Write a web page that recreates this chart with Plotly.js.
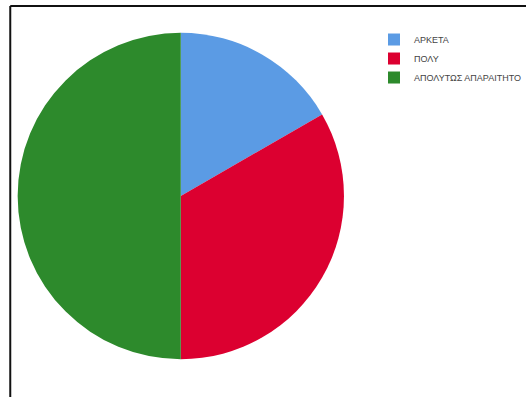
<!DOCTYPE html>
<html>
<head>
<meta charset="utf-8">
<script src="https://cdn.plot.ly/plotly-3.0.1.min.js"></script>
<style>html,body{margin:0;padding:0;background:#fff;}#chart{width:526px;height:397px;}</style>
</head>
<body>
<div id="chart"></div>
<script>
var categories = ["ΑΡΚΕΤΑ", "ΠΟΛΥ", "ΑΠΟΛΥΤΩΣ ΑΠΑΡΑΙΤΗΤΟ"];
var values = [1, 2, 3];
var colors = ["#5b9be4", "#dc0030", "#2d8a2c"];

var W = 526, H = 397;
var cx = 185, cy = 196, r = 167;

var trace = {
  type: "pie",
  labels: categories,
  values: values,
  sort: false,
  direction: "clockwise",
  rotation: 0,
  textinfo: "none",
  hoverinfo: "label+percent",
  marker: {colors: colors, line: {width: 0}},
  domain: {
    x: [(cx - r) / W, (cx + r) / W],
    y: [(H - cy - r) / H, (H - cy + r) / H]
  }
};

var layout = {
  width: W, height: H,
  margin: {l: 0, r: 0, t: 0, b: 0},
  paper_bgcolor: "#ffffff",
  showlegend: true,
  legend: {
    x: 0.728, y: 0.937, xanchor: "left", yanchor: "top",
    font: {family: "Liberation Sans Narrow, Liberation Sans, Arial, sans-serif", size: 9, color: "#444444"},
    bgcolor: "rgba(0,0,0,0)", borderwidth: 0,
    itemwidth: 30
  },
  shapes: [
    {type: "line", xref: "paper", yref: "paper", x0: 10.5 / W, x1: 10.5 / W, y0: -0.05, y1: (H - 6) / H, line: {color: "#111", width: 2}},
    {type: "line", xref: "paper", yref: "paper", x0: 10.5 / W, x1: 1.05, y0: (H - 6) / H, y1: (H - 6) / H, line: {color: "#111", width: 2}}
  ]
};

Plotly.newPlot("chart", [trace], layout, {displayModeBar: false, staticPlot: true});
</script>
</body>
</html>
